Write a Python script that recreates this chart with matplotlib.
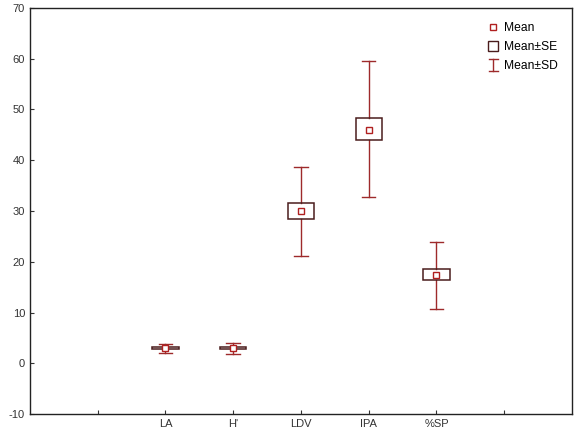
import numpy as np
import matplotlib.pyplot as plt
from matplotlib.patches import Rectangle
from matplotlib.lines import Line2D
from matplotlib.legend_handler import HandlerBase

plt.rcParams['font.family'] = ['Liberation Sans', 'DejaVu Sans']
plt.rcParams['axes.unicode_minus'] = False

categories = ["LA", "H'", "LDV", "IPA", "%SP"]
means = [3.0, 3.0, 30.0, 46.0, 17.4]
se_low = [2.8, 2.8, 28.5, 43.9, 16.4]
se_high = [3.2, 3.2, 31.5, 48.3, 18.5]
sd_low = [2.0, 1.9, 21.1, 32.7, 10.8]
sd_high = [3.9, 4.1, 38.6, 59.5, 24.0]

whisk_col = '#9e2a2b'
box_col = '#4a1c1c'
mean_col = '#b02020'


class WhiskerHandler(HandlerBase):
    def create_artists(self, legend, orig, xd, yd, width, height, fontsize, trans):
        cx = xd + width / 2
        top = yd + height * 1.15
        bot = yd - height * 0.3
        cw = height * 0.55
        l1 = Line2D([cx, cx], [bot, top], color=whisk_col, lw=1, transform=trans)
        l2 = Line2D([cx - cw, cx + cw], [top, top], color=whisk_col, lw=1, transform=trans)
        l3 = Line2D([cx - cw, cx + cw], [bot, bot], color=whisk_col, lw=1, transform=trans)
        return [l1, l2, l3]


class BoxHandler(HandlerBase):
    def create_artists(self, legend, orig, xd, yd, width, height, fontsize, trans):
        s = height * 1.15
        r = Rectangle((xd + width / 2 - s / 2, yd + height / 2 - s / 2), s, s,
                      fill=False, edgecolor=box_col, lw=1, transform=trans)
        return [r]


fig = plt.figure(figsize=(5.76, 4.36), dpi=100)
ax = fig.add_axes([0.052, 0.050, 0.941, 0.932])

xpos = np.arange(2, 2 + len(categories))
box_w = 0.39
cap_w = 0.2
for x, m, sl, sh, dl, dh in zip(xpos, means, se_low, se_high, sd_low, sd_high):
    # SD whisker
    ax.plot([x, x], [dl, sl], color=whisk_col, lw=1)
    ax.plot([x, x], [sh, dh], color=whisk_col, lw=1)
    ax.plot([x - cap_w / 2, x + cap_w / 2], [dl, dl], color=whisk_col, lw=1)
    ax.plot([x - cap_w / 2, x + cap_w / 2], [dh, dh], color=whisk_col, lw=1)
    # SE box
    ax.add_patch(Rectangle((x - box_w / 2, sl), box_w, sh - sl, fill=False,
                           edgecolor=box_col, lw=1.1, zorder=3))
    # mean
    ax.plot(x, m, 's', ms=4, mfc='white', mec=mean_col, mew=1, zorder=4)

ax.set_xlim(0, 8)
ax.set_ylim(-10, 70)
ax.set_xticks(range(1, 8))
ax.set_xticklabels([''] + categories + [''])
ax.set_yticks(range(-10, 71, 10))
ax.tick_params(direction='in', length=3, labelsize=8, colors='#333333', labelcolor='#333333')
for sp in ax.spines.values():
    sp.set_linewidth(1)
    sp.set_color('#222222')

h_mean = Line2D([], [], marker='s', ms=4, mfc='white', mec=mean_col, mew=1, ls='none')
h_se = Rectangle((0, 0), 1, 1)
h_sd = Line2D([], [])
ax.legend([h_mean, h_se, h_sd], ['Mean', 'Mean±SE', 'Mean±SD'],
          handler_map={h_se: BoxHandler(), h_sd: WhiskerHandler()},
          loc='upper right', frameon=False, fontsize=8.7, handlelength=0.9,
          handletextpad=0.4, labelspacing=0.55, borderaxespad=0.8)

fig.savefig('out.png', dpi=100)
